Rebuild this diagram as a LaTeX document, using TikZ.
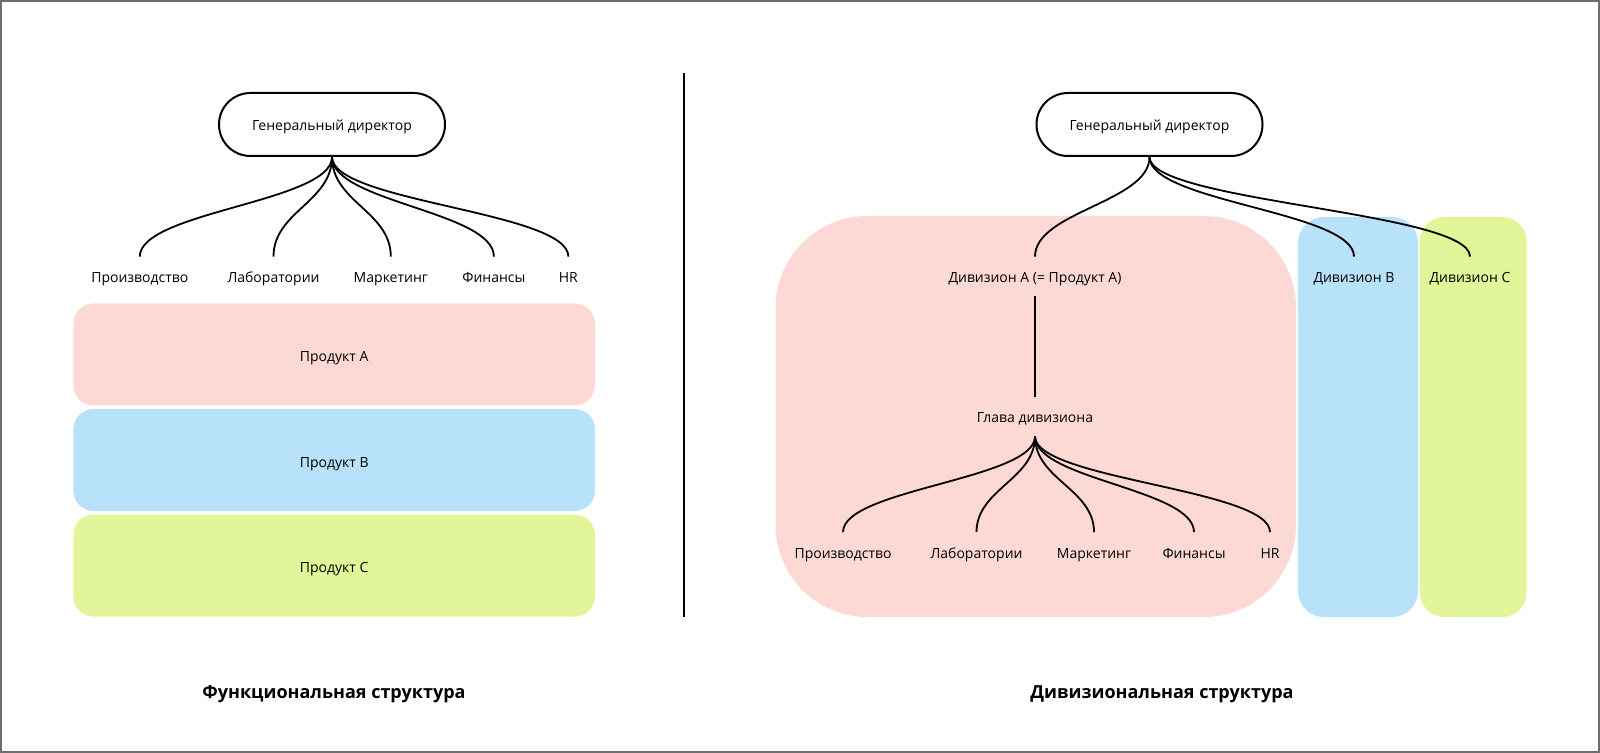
\documentclass[tikz,border=0pt]{standalone}
\usepackage{fontspec}
\setmainfont{Open Sans}
\definecolor{prodA}{RGB}{252,217,212}
\definecolor{prodB}{RGB}{183,226,250}
\definecolor{prodC}{RGB}{226,245,152}
\definecolor{frame}{RGB}{110,110,110}
\tikzset{
  ceo/.style={draw, line width=1pt, rounded corners=15.7pt, minimum width=113pt, minimum height=31.5pt, text height=6.2pt, text depth=0pt, font=\fontsize{7}{9}\selectfont},
  lbl/.style={inner sep=0pt, minimum height=19.5pt, text height=6pt, text depth=0pt, font=\fontsize{7}{9}\selectfont},
  prod/.style={fill=#1, rounded corners=10pt, minimum width=260.75pt, minimum height=51pt, text height=7pt, text depth=0pt, font=\fontsize{7}{9}\selectfont},
  link/.style={line width=0.9pt},
  title/.style={text height=6.4pt, text depth=0pt, font=\fontsize{9}{11}\selectfont\bfseries}
}

\begin{document}
\begin{tikzpicture}[x=0.5pt,y=-0.5pt]
    \useasboundingbox (0,0) rectangle (1600,753);
    \draw[frame, line width=1pt] (1,1) rectangle (1599,752);
    % functional structure
    \node[ceo] (ceoF) at (332,124.5) {Генеральный директор};
    \node[lbl] (fPr) at (139.8,276.5) {Производство};
    \node[lbl] (fLab) at (273.5,276.5) {Лаборатории};
    \node[lbl] (fMar) at (390.8,276.5) {Маркетинг};
    \node[lbl] (fFin) at (493.9,276.5) {Финансы};
    \node[lbl] (fHR) at (568.4,276.5) {HR};
    \foreach \n in {fPr,fLab,fMar,fFin,fHR}
        \draw[link] (ceoF.south) .. controls +(0,45) and +(0,-45) .. (\n.north);
    \node[prod=prodA] (pA) at (334.2,354.5) {Продукт A};
    \node[prod=prodB] (pB) at (334.2,460) {Продукт B};
    \node[prod=prodC] (pC) at (334.2,565.5) {Продукт C};
    \node[title] (tF) at (334,692) {Функциональная структура};
    % divider
    \draw[line width=1pt] (684,73.5) -- (684,617);
    % divisional structure
    \fill[prodA, rounded corners=46pt] (775.5,216) rectangle (1296,617);
    \fill[prodB, rounded corners=13pt] (1298,217) rectangle (1418,617);
    \fill[prodC, rounded corners=12pt] (1420,217) rectangle (1526.5,617);
    \node[ceo] (ceoD) at (1149.5,124.5) {Генеральный директор};
    \node[lbl] (divA) at (1035,276.5) {Дивизион A (= Продукт A)};
    \node[lbl] (divB) at (1354,276.5) {Дивизион B};
    \node[lbl] (divC) at (1470,276.5) {Дивизион C};
    \foreach \n in {divA,divB,divC}
        \draw[link] (ceoD.south) .. controls +(0,45) and +(0,-45) .. (\n.north);
    \node[lbl] (head) at (1035,416.5) {Глава дивизиона};
    \draw[link] (divA.south) -- (head.north);
    \node[lbl] (dPr) at (843,552) {Производство};
    \node[lbl] (dLab) at (976.5,552) {Лаборатории};
    \node[lbl] (dMar) at (1094,552) {Маркетинг};
    \node[lbl] (dFin) at (1194,552) {Финансы};
    \node[lbl] (dHR) at (1270,552) {HR};
    \foreach \n in {dPr,dLab,dMar,dFin,dHR}
        \draw[link] (head.south) .. controls +(0,43) and +(0,-43) .. (\n.north);
    \node[title] (tD) at (1162,692) {Дивизиональная структура};
\end{tikzpicture}
\end{document}
